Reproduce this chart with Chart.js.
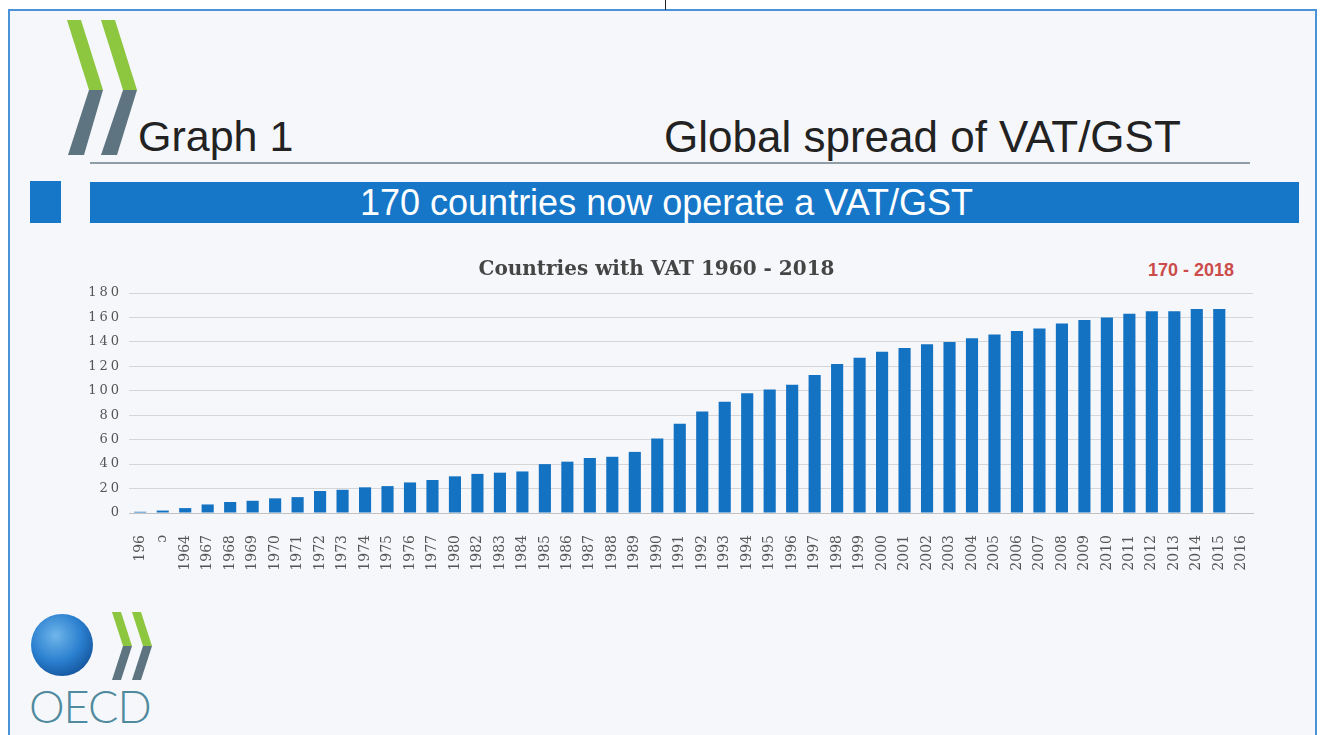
<!DOCTYPE html>
<html>
<head>
<meta charset="utf-8">
<script src="https://cdn.jsdelivr.net/npm/chart.js@4.4.1/dist/chart.umd.min.js"></script>
<style>
  html, body { margin: 0; padding: 0; }
  body { width: 1324px; height: 735px; background: #fff; position: relative; overflow: hidden; font-family: "Liberation Sans", Arial, sans-serif; }
  .frame { position: absolute; left: 8px; top: 9px; width: 1309px; height: 740px; border: 2px solid #4b92d8; background: #f6f7fa; box-sizing: border-box; }
  .tick { position: absolute; left: 665px; top: 0; width: 1px; height: 10px; background: #222; }
  .head { position: absolute; color: #222; font-size: 43px; line-height: 1; white-space: nowrap; }
  .rule { position: absolute; left: 90px; top: 162px; width: 1160px; height: 2px; background: #8f9ea6; }
  .sq { position: absolute; left: 30px; top: 181px; width: 31px; height: 42px; background: #1677c9; }
  .band { position: absolute; left: 90px; top: 182px; width: 1209px; height: 41px; background: #1677c9; color: #fff; font-size: 36px; line-height: 41px; text-align: center; white-space: nowrap; }
  .band span { position: relative; left: -28px; }
  .red { position: absolute; left: 1148px; top: 260px; color: #cc4b4b; font-weight: bold; font-size: 18px; white-space: nowrap; }
  #chart { position: absolute; left: 60px; top: 250px; }
  .oecd { position: absolute; left: 29px; top: 684px; font-family: Lato, "Liberation Sans", sans-serif; font-weight: 300; font-size: 45px; line-height: 1; color: #4f8a9e; letter-spacing: -1px; }
  svg { position: absolute; left: 0; top: 0; }
</style>
</head>
<body>
<div class="frame"></div>
<div class="tick"></div>
<svg width="1324" height="735">
  <defs>
    <radialGradient id="globe" cx="40%" cy="35%" r="70%">
      <stop offset="0" stop-color="#6fb6ea"/>
      <stop offset="0.6" stop-color="#2a7fcf"/>
      <stop offset="1" stop-color="#14559c"/>
    </radialGradient>
  </defs>
  <!-- top chevrons -->
  <polygon points="67,20 81,20 103,90 89,90" fill="#8dc63f"/>
  <polygon points="89,90 103,90 84,155 68,155" fill="#5e7480"/>
  <polygon points="101,20 115,20 137,90 123,90" fill="#8dc63f"/>
  <polygon points="123,90 137,90 117,155 101,155" fill="#5e7480"/>
  <!-- bottom logo -->
  <circle cx="62" cy="645" r="31" fill="url(#globe)"/>
  <polygon points="112,612 121,612 132,646 123,646" fill="#8dc63f"/>
  <polygon points="123,646 132,646 121,680 112,680" fill="#5e7480"/>
  <polygon points="132,612 141,612 152,646 143,646" fill="#8dc63f"/>
  <polygon points="143,646 152,646 141,680 132,680" fill="#5e7480"/>
</svg>
<div class="head" style="left:138px; top:115px;">Graph 1</div>
<div class="head" style="left:664px; top:115px; font-size:44px;">Global spread of VAT/GST</div>
<div class="rule"></div>
<div class="sq"></div>
<div class="band"><span>170 countries now operate a VAT/GST</span></div>
<div class="red">170 - 2018</div>
<canvas id="chart" width="1200" height="330"></canvas>
<div class="oecd">OECD</div>
<script>
const chartTitle = "Countries with VAT 1960 - 2018";
const years = ["196", "ɔ", "1964", "1967", "1968", "1969", "1970", "1971", "1972", "1973",
  "1974", "1975", "1976", "1977", "1980", "1982", "1983", "1984", "1985", "1986",
  "1987", "1988", "1989", "1990", "1991", "1992", "1993", "1994", "1995", "1996",
  "1997", "1998", "1999", "2000", "2001", "2002", "2003", "2004", "2005", "2006",
  "2007", "2008", "2009", "2010", "2011", "2012", "2013", "2014", "2015", "2016"];
const countries = [1, 2, 4, 7, 9, 10, 12, 13, 18, 19,
  21, 22, 25, 27, 30, 32, 33, 34, 40, 42,
  45, 46, 50, 61, 73, 83, 91, 98, 101, 105,
  113, 122, 127, 132, 135, 138, 140, 143, 146, 149,
  151, 155, 158, 160, 163, 165, 165, 167, 167];
const yMax = 180;
const yStep = 20;

// spread the y tick digits like the scanned slide
const spacing = {
  id: "spacing",
  afterDatasetsDraw(chart) { chart.ctx.letterSpacing = "3px"; },
  afterDraw(chart) { chart.ctx.letterSpacing = "0px"; }
};

const chart = new Chart(document.getElementById("chart"), {
  type: "bar",
  data: {
    labels: years,
    datasets: [{
      data: countries,
      backgroundColor: "#1472c2",
      barPercentage: 0.54,
      categoryPercentage: 1
    }]
  },
  options: {
    responsive: false,
    animation: false,
    layout: { padding: { left: 0, right: 7, top: 0, bottom: 7 } },
    plugins: {
      legend: { display: false },
      tooltip: { enabled: false },
      title: {
        display: true,
        text: chartTitle,
        color: "#454545",
        font: { family: "DejaVu Serif", size: 20, weight: "bold" },
        padding: { top: 8, bottom: 11 }
      }
    },
    scales: {
      x: {
        grid: { display: false },
        border: { display: true, color: "#c2c2c2" },
        ticks: {
          autoSkip: false,
          minRotation: 90,
          maxRotation: 90,
          padding: 14,
          color: "#555",
          font: { family: "DejaVu Serif", size: 14 }
        },
        afterFit(scale) {
          scale.height = 60;
          scale.paddingLeft = 0;
          scale.paddingRight = 0;
        }
      },
      y: {
        min: 0,
        max: yMax,
        grid: { color: "#d6d6d6", drawTicks: false },
        border: { display: false },
        ticks: {
          stepSize: yStep,
          padding: 7,
          z: 1,
          color: "#555",
          font: { family: "DejaVu Serif", size: 13 }
        },
        afterFit(scale) { scale.width = 69; }
      }
    }
  },
  plugins: [spacing]
});
</script>
</body>
</html>
